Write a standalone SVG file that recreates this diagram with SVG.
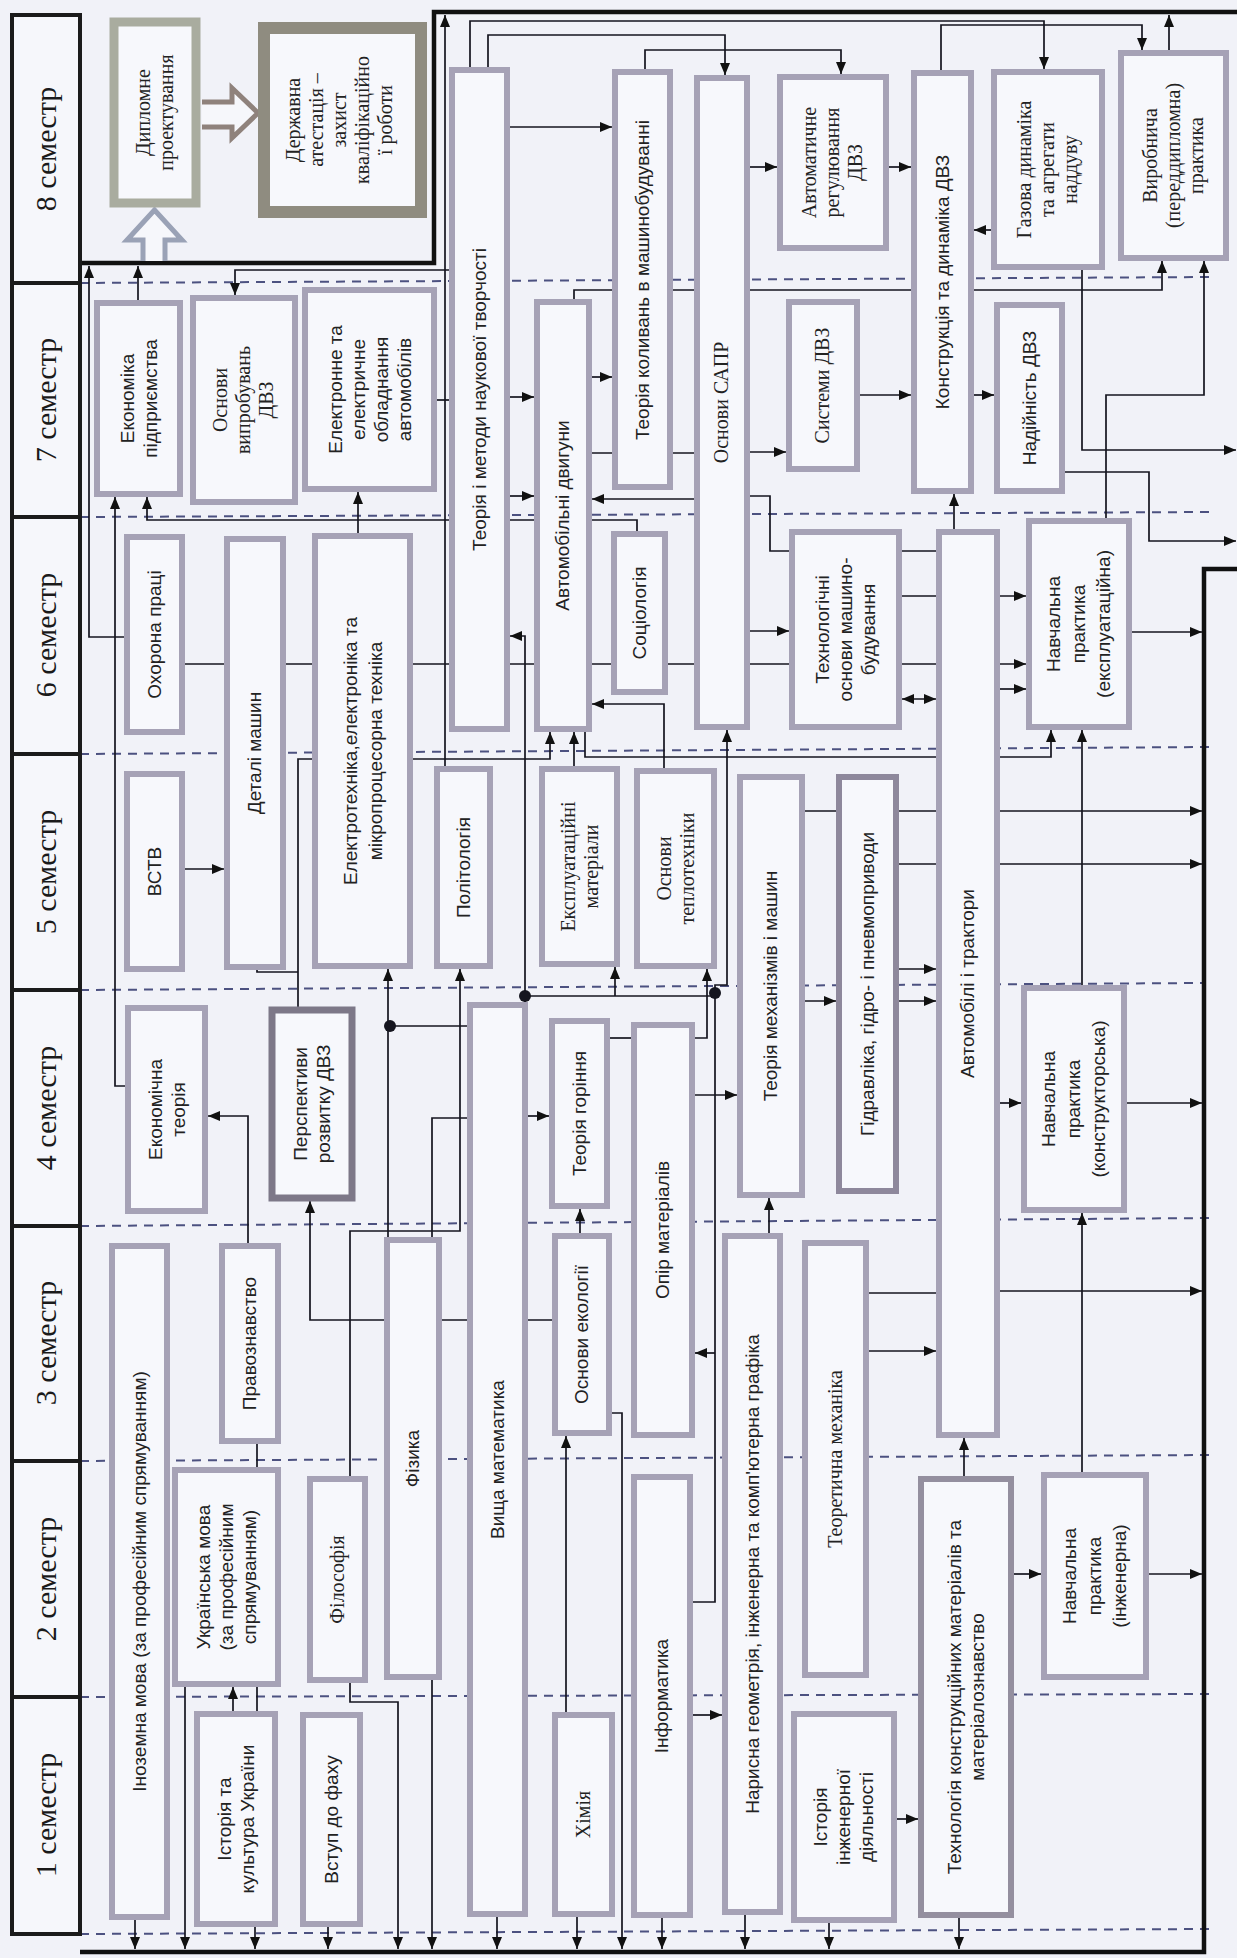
<svg xmlns="http://www.w3.org/2000/svg" width="1237" height="1958" viewBox="0 0 1237 1958">
<style>
.bg{fill:#f1f2f8}
.hd{fill:#f6f7fb;stroke:#1b1b1b;stroke-width:4}
.bx{fill:#f7f8fc;stroke:#a6a2b6;stroke-width:6}
.dk{fill:#f7f8fc;stroke:#7d7888;stroke-width:7}
.s{font-family:"Liberation Sans",Arial,sans-serif;font-size:19px;fill:#222;text-anchor:middle}
.r{font-family:"Liberation Serif","Times New Roman",serif;font-size:20px;fill:#222;text-anchor:middle}
.h{font-family:"Liberation Serif","Times New Roman",serif;font-size:30px;fill:#1a1a1a;text-anchor:middle}
.dash{stroke:#4c5180;stroke-width:2;stroke-dasharray:9 7;fill:none}
.c{fill:none;stroke:#15151f;stroke-width:1.7}
.ca{fill:none;stroke:#15151f;stroke-width:1.7;marker-end:url(#ah)}
.cd{fill:none;stroke:#15151f;stroke-width:1.7;marker-end:url(#ah);marker-start:url(#ah)}
.bus{fill:none;stroke:#111;stroke-width:4.5}
.hol{fill:#f6f7fb;stroke:#9aa2b6;stroke-width:5;stroke-linejoin:miter}
</style>
<defs>
<marker id="ah" viewBox="0 0 12 10" refX="12" refY="5" markerWidth="12" markerHeight="10" markerUnits="userSpaceOnUse" orient="auto-start-reverse"><path d="M0,0L12,5L0,10z" fill="#111"/></marker>
</defs>
<rect class="bg" x="0" y="0" width="1237" height="1958"/>

<g id="semester-lines">
<line class="dash" x1="80" y1="283" x2="1212" y2="277"/>
<line class="dash" x1="80" y1="517" x2="1212" y2="512"/>
<line class="dash" x1="80" y1="754" x2="1212" y2="747"/>
<line class="dash" x1="80" y1="990" x2="1204" y2="983"/>
<line class="dash" x1="80" y1="1226" x2="1212" y2="1218"/>
<line class="dash" x1="80" y1="1461" x2="1212" y2="1455"/>
<line class="dash" x1="80" y1="1697" x2="1212" y2="1694"/>
<line class="dash" x1="80" y1="1934" x2="1212" y2="1929"/>
</g>

<g id="connectors">
<polyline class="bus" points="80,263 434,263 434,12 1237,12"/>
<polyline class="bus" points="1237,569 1204,569 1204,1952 80,1952"/>
<path class="hol" d="M143,261 V240 H127 L154.5,210 L182,240 H165 V261"/>
<path class="hol" d="M202,102 H232 V88 L258,113 L232,138 V127 H202" style="stroke:#8f827c"/>
<polyline class="ca" points="127,637 89,637 89,266"/>
<polyline class="ca" points="138,303 138,266"/>
<polyline class="ca" points="128,1086 115,1086 115,497"/>
<polyline class="ca" points="637,534 637,520 147,520 147,497"/>
<polyline class="ca" points="452,270 235,270 235,295"/>
<polyline class="c" points="434,400 452,400"/>
<polyline class="ca" points="445,769 445,15"/>
<polyline class="ca" points="507,127 612,127"/>
<polyline class="ca" points="470,70 470,21 1044,21 1044,69"/>
<polyline class="ca" points="488,70 488,35 725,35 725,75"/>
<polyline class="ca" points="645,72 645,50 841,50 841,74"/>
<polyline class="ca" points="747,167 777,167"/>
<polyline class="ca" points="886,167 911,167"/>
<polyline class="ca" points="994,230 974,230"/>
<polyline class="ca" points="941,73 941,25 1142,25 1142,50"/>
<polyline class="ca" points="1169,53 1169,15"/>
<polyline class="ca" points="574,302 574,290 1162,290 1162,261"/>
<polyline class="ca" points="1106,521 1106,395 1204,395 1204,261"/>
<polyline class="ca" points="747,452 786,452"/>
<polyline class="ca" points="857,395 911,395"/>
<polyline class="ca" points="971,395 994,395"/>
<polyline class="ca" points="1082,267 1082,450 1236,450"/>
<polyline class="ca" points="1062,472 1149,472 1149,541 1236,541"/>
<polyline class="ca" points="507,397 534,397"/>
<polyline class="ca" points="589,377 612,377"/>
<polyline class="c" points="589,453 697,453"/>
<polyline class="ca" points="954,532 954,494"/>
<polyline class="ca" points="358,536 358,492"/>
<polyline class="ca" points="182,664 1026,664"/>
<polyline class="ca" points="182,869 224,869"/>
<polyline class="ca" points="298,1010 298,759 550,759 550,732"/>
<polyline class="c" points="257,967 257,972 298,972"/>
<polyline class="ca" points="388,1240 388,969"/>
<polyline class="c" points="388,1026 470,1026"/>
<polyline class="ca" points="555,1320 310,1320 310,1201"/>
<polyline class="ca" points="248,1246 248,1116 208,1116"/>
<polyline class="ca" points="350,1479 350,1231 460,1231 460,969"/>
<polyline class="c" points="432,1240 432,1118 470,1118"/>
<polyline class="ca" points="525,1116 549,1116"/>
<polyline class="ca" points="580,1236 580,1209"/>
<polyline class="ca" points="566,1715 566,1436"/>
<polyline class="ca" points="609,1413 622,1413 622,1949"/>
<polyline class="ca" points="692,1095 737,1095"/>
<polyline class="ca" points="769,1236 769,1198"/>
<polyline class="ca" points="690,1715 722,1715"/>
<polyline class="ca" points="692,1602 715,1602 715,985 727,985 727,730"/>
<polyline class="ca" points="715,1353 695,1353"/>
<polyline class="ca" points="525,1005 525,636 510,636"/>
<polyline class="c" points="525,996 715,996"/>
<polyline class="ca" points="615,996 615,967"/>
<polyline class="ca" points="692,1038 707,1038 707,969"/>
<polyline class="c" points="607,1038 634,1038"/>
<polyline class="ca" points="574,769 574,732"/>
<polyline class="ca" points="585,729 585,757 1051,757 1051,730"/>
<polyline class="ca" points="664,771 664,704 592,704"/>
<polyline class="ca" points="749,631 789,631"/>
<polyline class="c" points="749,496 770,496 770,551 939,551"/>
<polyline class="ca" points="697,499 592,499"/>
<polyline class="ca" points="507,496 534,496"/>
<polyline class="ca" points="899,596 1026,596"/>
<polyline class="ca" points="997,689 1026,689"/>
<polyline class="cd" points="902,699 936,699"/>
<polyline class="ca" points="1129,632 1202,632"/>
<polyline class="ca" points="802,811 1202,811"/>
<polyline class="ca" points="896,864 1202,864"/>
<polyline class="ca" points="896,969 936,969"/>
<polyline class="ca" points="802,1001 836,1001"/>
<polyline class="ca" points="896,1001 936,1001"/>
<polyline class="ca" points="997,1103 1021,1103"/>
<polyline class="ca" points="1124,1103 1202,1103"/>
<polyline class="ca" points="997,1291 1202,1291"/>
<polyline class="c" points="866,1293 939,1293"/>
<polyline class="ca" points="866,1351 936,1351"/>
<polyline class="ca" points="964,1479 964,1438"/>
<polyline class="ca" points="1082,1475 1082,1213"/>
<polyline class="ca" points="1082,988 1082,730"/>
<polyline class="ca" points="1011,1574 1041,1574"/>
<polyline class="ca" points="1146,1574 1202,1574"/>
<polyline class="ca" points="894,1819 918,1819"/>
<polyline class="c" points="257,1441 257,1470"/>
<polyline class="ca" points="233,1714 233,1687"/>
<polyline class="c" points="257,1684 257,1714"/>
<polyline class="ca" points="135,1917 135,1949"/>
<polyline class="ca" points="185,1684 185,1949"/>
<polyline class="ca" points="255,1924 255,1949"/>
<polyline class="ca" points="328,1924 328,1949"/>
<polyline class="ca" points="350,1680 350,1702 398,1702 398,1949"/>
<polyline class="ca" points="432,1677 432,1949"/>
<polyline class="ca" points="497,1914 497,1949"/>
<polyline class="ca" points="577,1914 577,1949"/>
<polyline class="ca" points="662,1915 662,1949"/>
<polyline class="ca" points="745,1912 745,1949"/>
<polyline class="ca" points="829,1920 829,1949"/>
<polyline class="ca" points="959,1915 959,1949"/>
<circle cx="390" cy="1026" r="6" fill="#15151f"/>
<circle cx="525" cy="996" r="6" fill="#15151f"/>
<circle cx="715" cy="993" r="6" fill="#15151f"/>
</g>

<g id="headers">
<g id="sem8"><rect class="hd" x="12" y="15" width="68" height="268"/><text class="h" transform="translate(46 149) rotate(-90)"><tspan x="0" y="10">8 семестр</tspan></text></g>
<g id="sem7"><rect class="hd" x="12" y="283" width="68" height="234"/><text class="h" transform="translate(46 400) rotate(-90)"><tspan x="0" y="10">7 семестр</tspan></text></g>
<g id="sem6"><rect class="hd" x="12" y="517" width="68" height="237"/><text class="h" transform="translate(46 635) rotate(-90)"><tspan x="0" y="10">6 семестр</tspan></text></g>
<g id="sem5"><rect class="hd" x="12" y="754" width="68" height="236"/><text class="h" transform="translate(46 872) rotate(-90)"><tspan x="0" y="10">5 семестр</tspan></text></g>
<g id="sem4"><rect class="hd" x="12" y="990" width="68" height="236"/><text class="h" transform="translate(46 1108) rotate(-90)"><tspan x="0" y="10">4 семестр</tspan></text></g>
<g id="sem3"><rect class="hd" x="12" y="1226" width="68" height="235"/><text class="h" transform="translate(46 1343) rotate(-90)"><tspan x="0" y="10">3 семестр</tspan></text></g>
<g id="sem2"><rect class="hd" x="12" y="1461" width="68" height="236"/><text class="h" transform="translate(46 1579) rotate(-90)"><tspan x="0" y="10">2 семестр</tspan></text></g>
<g id="sem1"><rect class="hd" x="12" y="1697" width="68" height="237"/><text class="h" transform="translate(46 1815) rotate(-90)"><tspan x="0" y="10">1 семестр</tspan></text></g>
</g>

<g id="nodes">
<g id="dyp"><rect x="114" y="22" width="82" height="181" style="fill:#f7f8fc;stroke:#a9ac9f;stroke-width:9"/><text class="r" transform="translate(155 112.5) rotate(-90)"><tspan x="0" y="-5">Дипломне</tspan><tspan x="0" y="18">проектування</tspan></text></g>
<g id="derzh"><rect x="264" y="28" width="157" height="184" style="fill:#f7f8fc;stroke:#8f8c80;stroke-width:12"/><text class="r" transform="translate(340 120) rotate(-90)"><tspan x="0" y="-40">Державна</tspan><tspan x="0" y="-17">атестація –</tspan><tspan x="0" y="6">захист</tspan><tspan x="0" y="29">кваліфікаційно</tspan><tspan x="0" y="52">ї роботи</tspan></text></g>
<g id="ekpidpr"><rect class="bx" x="97" y="303" width="83" height="191"/><text class="s" transform="translate(138.5 398.5) rotate(-90)"><tspan x="0" y="-5">Економіка</tspan><tspan x="0" y="18">підприємства</tspan></text></g>
<g id="osnvyp"><rect class="bx" x="193" y="298" width="102" height="204"/><text class="r" transform="translate(244 400) rotate(-90)"><tspan x="0" y="-17">Основи</tspan><tspan x="0" y="6">випробувань</tspan><tspan x="0" y="29">ДВЗ</tspan></text></g>
<g id="elobl"><rect class="bx" x="305" y="290" width="129" height="199"/><text class="s" transform="translate(369.5 389.5) rotate(-90)"><tspan x="0" y="-28">Електронне та</tspan><tspan x="0" y="-5">електричне</tspan><tspan x="0" y="18">обладнання</tspan><tspan x="0" y="41">автомобілів</tspan></text></g>
<g id="tmnt"><rect class="bx" x="452" y="70" width="55" height="659"/><text class="s" transform="translate(479.5 399.5) rotate(-90)"><tspan x="0" y="6">Теорія і методи наукової творчості</tspan></text></g>
<g id="tkol"><rect class="bx" x="615" y="72" width="55" height="415"/><text class="s" transform="translate(642.5 280) rotate(-90)"><tspan x="0" y="6">Теорія коливань в машинобудуванні</tspan></text></g>
<g id="sapr"><rect class="bx" x="697" y="78" width="50" height="649"/><text class="r" transform="translate(722 402.5) rotate(-90)"><tspan x="0" y="6">Основи САПР</tspan></text></g>
<g id="avtreg"><rect class="bx" x="780" y="77" width="106" height="171"/><text class="r" transform="translate(833 162.5) rotate(-90)"><tspan x="0" y="-17">Автоматичне</tspan><tspan x="0" y="6">регулювання</tspan><tspan x="0" y="29">ДВЗ</tspan></text></g>
<g id="konstr"><rect class="bx" x="914" y="73" width="57" height="418"/><text class="s" transform="translate(942.5 282) rotate(-90)"><tspan x="0" y="6">Конструкція та динаміка ДВЗ</tspan></text></g>
<g id="gaz"><rect class="bx" x="994" y="72" width="108" height="195"/><text class="r" transform="translate(1048 169.5) rotate(-90)"><tspan x="0" y="-17">Газова динаміка</tspan><tspan x="0" y="6">та агрегати</tspan><tspan x="0" y="29">наддуву</tspan></text></g>
<g id="vyrob"><rect class="bx" x="1121" y="53" width="105" height="205"/><text class="r" transform="translate(1173.5 155.5) rotate(-90)"><tspan x="0" y="-17">Виробнича</tspan><tspan x="0" y="6">(переддипломна)</tspan><tspan x="0" y="29">практика</tspan></text></g>
<g id="avtdv"><rect class="bx" x="537" y="302" width="52" height="427"/><text class="s" transform="translate(563 515.5) rotate(-90)"><tspan x="0" y="6">Автомобільні двигуни</tspan></text></g>
<g id="syst"><rect class="bx" x="789" y="302" width="68" height="167"/><text class="r" transform="translate(823 385.5) rotate(-90)"><tspan x="0" y="6">Системи ДВЗ</tspan></text></g>
<g id="nadiyn"><rect class="bx" x="997" y="305" width="65" height="186"/><text class="s" transform="translate(1029.5 398) rotate(-90)"><tspan x="0" y="6">Надійність ДВЗ</tspan></text></g>
<g id="okhor"><rect class="bx" x="127" y="537" width="55" height="195"/><text class="s" transform="translate(154.5 634.5) rotate(-90)"><tspan x="0" y="6">Охорона праці</tspan></text></g>
<g id="detali"><rect class="bx" x="227" y="539" width="56" height="428"/><text class="s" transform="translate(255 753) rotate(-90)"><tspan x="0" y="6">Деталі машин</tspan></text></g>
<g id="elektr"><rect class="bx" x="315" y="536" width="95" height="430"/><text class="s" transform="translate(362.5 751) rotate(-90)"><tspan x="0" y="-6">Електротехніка,електроніка та</tspan><tspan x="0" y="19">мікропроцесорна техніка</tspan></text></g>
<g id="vstv"><rect class="bx" x="127" y="774" width="55" height="195"/><text class="s" transform="translate(154.5 871.5) rotate(-90)"><tspan x="0" y="6">ВСТВ</tspan></text></g>
<g id="sociol"><rect class="bx" x="614" y="534" width="51" height="158"/><text class="s" transform="translate(639.5 613) rotate(-90)"><tspan x="0" y="6">Соціологія</tspan></text></g>
<g id="tekhnol"><rect class="bx" x="792" y="532" width="107" height="195"/><text class="s" transform="translate(845.5 629.5) rotate(-90)"><tspan x="0" y="-17">Технологічні</tspan><tspan x="0" y="6">основи машино-</tspan><tspan x="0" y="29">будування</tspan></text></g>
<g id="avtotr"><rect class="bx" x="939" y="532" width="58" height="903"/><text class="s" transform="translate(968 983.5) rotate(-90)"><tspan x="0" y="6">Автомобілі і трактори</tspan></text></g>
<g id="nexpl"><rect class="bx" x="1029" y="521" width="100" height="206"/><text class="s" transform="translate(1079 624) rotate(-90)"><tspan x="0" y="-19">Навчальна</tspan><tspan x="0" y="6">практика</tspan><tspan x="0" y="31">(експлуатаційна)</tspan></text></g>
<g id="polit"><rect class="bx" x="437" y="769" width="53" height="197"/><text class="s" transform="translate(463.5 867.5) rotate(-90)"><tspan x="0" y="6">Політологія</tspan></text></g>
<g id="ekspl"><rect class="bx" x="542" y="769" width="75" height="195"/><text class="r" transform="translate(579.5 866.5) rotate(-90)"><tspan x="0" y="-5">Експлуатаційні</tspan><tspan x="0" y="18">матеріали</tspan></text></g>
<g id="teplo"><rect class="bx" x="637" y="771" width="77" height="195"/><text class="r" transform="translate(675.5 868.5) rotate(-90)"><tspan x="0" y="-5">Основи</tspan><tspan x="0" y="18">теплотехніки</tspan></text></g>
<g id="tmm"><rect class="bx" x="740" y="777" width="62" height="418"/><text class="s" transform="translate(771 986) rotate(-90)"><tspan x="0" y="6">Теорія механізмів і машин</tspan></text></g>
<g id="gidr"><rect x="839" y="777" width="57" height="414" style="fill:#f7f8fc;stroke:#8e889c;stroke-width:6"/><text class="s" transform="translate(867.5 984) rotate(-90)"><tspan x="0" y="6">Гідравліка, гідро- і пневмоприводи</tspan></text></g>
<g id="nkonstr"><rect class="bx" x="1024" y="988" width="100" height="222"/><text class="s" transform="translate(1074 1099) rotate(-90)"><tspan x="0" y="-19">Навчальна</tspan><tspan x="0" y="6">практика</tspan><tspan x="0" y="31">(конструкторська)</tspan></text></g>
<g id="ekteor"><rect class="bx" x="128" y="1008" width="77" height="203"/><text class="s" transform="translate(166.5 1109.5) rotate(-90)"><tspan x="0" y="-5">Економічна</tspan><tspan x="0" y="18">теорія</tspan></text></g>
<g id="persp"><rect class="dk" x="272" y="1010" width="80" height="188"/><text class="s" transform="translate(312 1104) rotate(-90)"><tspan x="0" y="-5">Перспективи</tspan><tspan x="0" y="18">розвитку ДВЗ</tspan></text></g>
<g id="gorin"><rect class="bx" x="552" y="1021" width="55" height="185"/><text class="s" transform="translate(579.5 1113.5) rotate(-90)"><tspan x="0" y="6">Теорія горіння</tspan></text></g>
<g id="opir"><rect class="bx" x="634" y="1025" width="58" height="410"/><text class="s" transform="translate(663 1230) rotate(-90)"><tspan x="0" y="6">Опір матеріалів</tspan></text></g>
<g id="ekol"><rect class="bx" x="555" y="1236" width="54" height="197"/><text class="s" transform="translate(582 1334.5) rotate(-90)"><tspan x="0" y="6">Основи екології</tspan></text></g>
<g id="pravo"><rect class="bx" x="222" y="1246" width="56" height="195"/><text class="s" transform="translate(250 1343.5) rotate(-90)"><tspan x="0" y="6">Правознавство</tspan></text></g>
<g id="inoz"><rect class="bx" x="112" y="1246" width="55" height="671"/><text class="s" transform="translate(139.5 1581.5) rotate(-90)"><tspan x="0" y="6">Іноземна мова (за професійним спрямуванням)</tspan></text></g>
<g id="fiz"><rect class="bx" x="387" y="1240" width="52" height="437"/><text class="s" transform="translate(413 1458.5) rotate(-90)"><tspan x="0" y="6">Фізика</tspan></text></g>
<g id="vyshch"><rect class="bx" x="470" y="1005" width="55" height="909"/><text class="s" transform="translate(497.5 1459.5) rotate(-90)"><tspan x="0" y="6">Вища математика</tspan></text></g>
<g id="narys"><rect class="bx" x="725" y="1236" width="55" height="676"/><text class="s" transform="translate(752.5 1574) rotate(-90)"><tspan x="0" y="6">Нарисна геометрія, інженерна та комп'ютерна графіка</tspan></text></g>
<g id="teormekh"><rect class="bx" x="805" y="1243" width="61" height="432"/><text class="r" transform="translate(835.5 1459) rotate(-90)"><tspan x="0" y="6">Теоретична механіка</tspan></text></g>
<g id="tekhkon"><rect x="921" y="1479" width="90" height="436" style="fill:#f7f8fc;stroke:#948f9f;stroke-width:6"/><text class="s" transform="translate(966 1697) rotate(-90)"><tspan x="0" y="-5">Технологія конструкційних матеріалів та</tspan><tspan x="0" y="18">матеріалознавство</tspan></text></g>
<g id="ninzh"><rect class="bx" x="1044" y="1475" width="102" height="202"/><text class="s" transform="translate(1095 1576) rotate(-90)"><tspan x="0" y="-19">Навчальна</tspan><tspan x="0" y="6">практика</tspan><tspan x="0" y="31">(інженерна)</tspan></text></g>
<g id="ukr"><rect class="bx" x="175" y="1470" width="103" height="214"/><text class="s" transform="translate(226.5 1577) rotate(-90)"><tspan x="0" y="-17">Українська мова</tspan><tspan x="0" y="6">(за професійним</tspan><tspan x="0" y="29">спрямуванням)</tspan></text></g>
<g id="filos"><rect class="bx" x="310" y="1479" width="55" height="201"/><text class="r" transform="translate(337.5 1579.5) rotate(-90)"><tspan x="0" y="6">Філософія</tspan></text></g>
<g id="ist"><rect class="bx" x="197" y="1714" width="78" height="210"/><text class="s" transform="translate(236 1819) rotate(-90)"><tspan x="0" y="-5">Історія та</tspan><tspan x="0" y="18">культура України</tspan></text></g>
<g id="vstup"><rect class="bx" x="303" y="1715" width="57" height="209"/><text class="s" transform="translate(331.5 1819.5) rotate(-90)"><tspan x="0" y="6">Вступ до фаху</tspan></text></g>
<g id="khim"><rect class="bx" x="555" y="1715" width="57" height="199"/><text class="r" transform="translate(583.5 1814.5) rotate(-90)"><tspan x="0" y="6">Хімія</tspan></text></g>
<g id="inform"><rect class="bx" x="634" y="1477" width="56" height="438"/><text class="s" transform="translate(662 1696) rotate(-90)"><tspan x="0" y="6">Інформатика</tspan></text></g>
<g id="istinzh"><rect class="bx" x="794" y="1714" width="100" height="206"/><text class="s" transform="translate(844 1817) rotate(-90)"><tspan x="0" y="-17">Історія</tspan><tspan x="0" y="6">інженерної</tspan><tspan x="0" y="29">діяльності</tspan></text></g>
</g>
</svg>
